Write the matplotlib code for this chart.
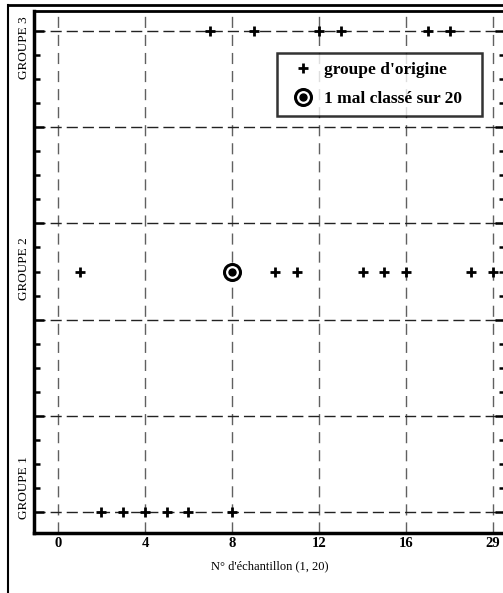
import matplotlib
matplotlib.use("Agg")
import matplotlib.pyplot as plt
from matplotlib.lines import Line2D
from matplotlib.legend_handler import HandlerTuple
from matplotlib.ticker import MultipleLocator, FixedLocator
from matplotlib.transforms import blended_transform_factory

# ---- data ----
groupe1_x = [2, 3, 4, 5, 6, 8]
groupe2_x = [1, 10, 11, 14, 15, 16, 19, 20]
groupe3_x = [7, 9, 12, 13, 17, 18]
group_levels = [1, 2, 3]
mal_classe_x = [8]
mal_classe_y = [2]
xtick_values = [0, 4, 8, 12, 16, 20]
xtick_labels = ["0", "4", "8", "12", "16", "29"]
group_labels = ["GROUPE 1", "GROUPE 2", "GROUPE 3"]
group_label_pos = [1.10, 2.01, 2.93]
xlabel = "N° d'échantillon (1, 20)"
legend_labels = ["groupe d'origine", "1 mal classé sur 20"]

plt.rcParams['font.family'] = ['Liberation Serif', 'DejaVu Serif']

W, H = 503, 593
fig = plt.figure(figsize=(W / 100, H / 100), dpi=100)
fig.patch.set_facecolor('white')

def fx(px):
    return px / W

def fy(py):
    return 1 - py / H

ax = fig.add_axes([fx(34), fy(533), fx(505) - fx(34), fy(11) - fy(533)])
ax.set_xlim(-1.1, 20.55)
ax.set_ylim(0.913, 3.083)

# grid lines
for xv in xtick_values:
    ax.axvline(xv, color='#606060', lw=1.0, dashes=(8, 5), zorder=1)
for yv in [1.0, 1.4, 1.8, 2.2, 2.6, 3.0]:
    ax.axhline(yv, color='#222222', lw=1.0, dashes=(8, 3.6), zorder=1)

plus_kw = dict(marker='+', ls='none', color='black', markersize=7, mew=2.0, zorder=3)
for xs, lvl in zip([groupe1_x, groupe2_x, groupe3_x], group_levels):
    ax.plot(xs, [lvl] * len(xs), **plus_kw)

ring_kw = dict(marker='o', ls='none', markersize=11.5, mfc='white', mec='black', mew=2.2, zorder=4)
dot_kw = dict(marker='o', ls='none', markersize=5, mfc='black', mec='black', zorder=5)
ax.plot(mal_classe_x, mal_classe_y, **ring_kw)
ax.plot(mal_classe_x, mal_classe_y, **dot_kw)

# spines
for s in ['left', 'top', 'bottom', 'right']:
    ax.spines[s].set_color('black')
ax.spines['left'].set_linewidth(2.5)
ax.spines['top'].set_linewidth(2.0)
ax.spines['bottom'].set_linewidth(2.5)
ax.spines['right'].set_linewidth(2.0)

# ticks
ax.set_xticks(xtick_values)
ax.set_xticklabels(xtick_labels, fontsize=10.5, fontweight='bold')
ax.tick_params(axis='x', length=0, pad=3)
ax.yaxis.set_major_locator(FixedLocator([1.0, 1.4, 1.8, 2.2, 2.6, 3.0]))
ax.yaxis.set_minor_locator(MultipleLocator(0.1))
ax.tick_params(axis='y', which='major', direction='in', length=7.5, width=1.8,
               left=True, right=True, labelleft=False)
ax.tick_params(axis='y', which='minor', direction='in', length=4.5, width=1.8,
               left=True, right=True)

ax.set_xlabel(xlabel, fontsize=9, labelpad=7)

trans = blended_transform_factory(fig.transFigure, ax.transData)
for lab, yp in zip(group_labels, group_label_pos):
    ax.text(fx(24), yp, lab, transform=trans,
            rotation=90, ha='center', va='center', fontsize=9.5)

# legend
h_plus = Line2D([], [], **plus_kw)
h_ring = Line2D([], [], **ring_kw)
h_dot = Line2D([], [], **dot_kw)
leg = ax.legend([h_plus, (h_ring, h_dot)], legend_labels,
                handler_map={tuple: HandlerTuple(ndivide=1)},
                loc='upper left', mode='expand',
                bbox_to_anchor=(fx(277), fy(116), fx(482) - fx(277), fy(53) - fy(116)),
                bbox_transform=fig.transFigure, borderaxespad=0,
                prop={'weight': 'bold', 'size': 12.5}, frameon=True, fancybox=False,
                handlelength=2.0, handletextpad=0.2, borderpad=0.5, labelspacing=0.75)
leg.get_frame().set_edgecolor('black')
leg.get_frame().set_linewidth(1.8)
leg.set_zorder(6)

# outer frame
fig.add_artist(Line2D([fx(8), fx(8)], [fy(5), fy(593)], color='black', lw=1.5))
fig.add_artist(Line2D([fx(8), fx(503)], [fy(5), fy(5)], color='black', lw=2.0))

fig.savefig('out.png', dpi=100, facecolor='white')
